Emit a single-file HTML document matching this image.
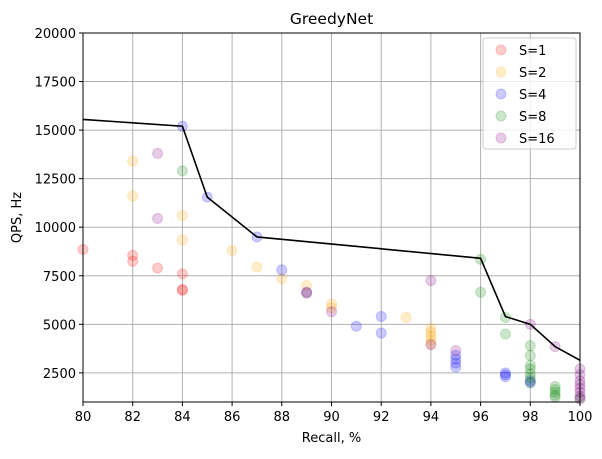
<!DOCTYPE html>
<html><head><meta charset="utf-8"><style>
body{margin:0;background:#fff;font-family:"DejaVu Sans","Liberation Sans",sans-serif}
</style></head><body>
<svg id="c" width="602" height="455" xmlns="http://www.w3.org/2000/svg" font-family="DejaVu Sans, Liberation Sans, sans-serif"></svg>
<script>
const xTicks=[80,82,84,86,88,90,92,94,96,98,100];
const yTicks=[2500,5000,7500,10000,12500,15000,17500,20000];
const seriesNames=["S=1","S=2","S=4","S=8","S=16"];
const seriesColors=["red","orange","blue","green","purple"];
const s1x=[80,82,82,83,84,84,84];
const s1y=[8850,8550,8250,7900,7600,6800,6750];
const s2x=[82,82,84,84,86,87,88,89,89,90,90,93,94,94,94,94,94];
const s2y=[13400,11600,10600,9350,8800,7950,7350,7000,6650,6050,5850,5350,4800,4600,4400,4200,4000];
const s4x=[84,85,87,88,89,91,92,92,95,95,95,95,97,97,97,98,98];
const s4y=[15200,11550,9500,7800,6650,4900,5400,4550,3400,3200,3000,2800,2500,2400,2300,2100,2000];
const s8x=[84,96,96,97,97,98,98,98,98,98,98,98,99,99,99,99,99,100];
const s8y=[12900,8350,6650,5350,4500,3900,3400,2900,2700,2450,2250,2000,1800,1650,1500,1350,1250,1200];
const s16x=[83,83,89,90,94,94,95,98,99,100,100,100,100,100,100,100,100];
const s16y=[13800,10450,6600,5650,7250,3950,3650,5000,3850,2700,2400,2100,1900,1700,1500,1300,1150];
const frontX=[80,84,85,87,96,97,98,99,100];
const frontY=[15550,15200,11550,9500,8400,5400,5000,3850,3150];
const SX=[s1x,s2x,s4x,s8x,s16x], SY=[s1y,s2y,s4y,s8y,s16y];
const L=83,R=580,T=33,B=402;
const xs=v=>L+(v-80)/20*(R-L);
const ys=v=>T+(20000-v)/(20000-1000)*(B-T);
const svg=document.getElementById('c');
const NS="http://www.w3.org/2000/svg";
function mk(t,a,p){const e=document.createElementNS(NS,t);for(const k in a)e.setAttribute(k,a[k]);(p||svg).appendChild(e);return e;}
xTicks.forEach(v=>{const g=mk('line',{x1:xs(v),x2:xs(v),y1:T,y2:B,stroke:'#b0b0b0','stroke-width':1});


const tk=mk('line',{x1:xs(v),x2:xs(v),y1:B,y2:B+4,stroke:'#000'});


const t=mk('text',{x:xs(v),y:B+19,'text-anchor':'middle','font-size':13});t.textContent=v;

});
yTicks.forEach(v=>{const g=mk('line',{x1:L,x2:R,y1:ys(v),y2:ys(v),stroke:'#b0b0b0','stroke-width':1});


const tk=mk('line',{x1:L-4,x2:L,y1:ys(v),y2:ys(v),stroke:'#000'});


const t=mk('text',{x:L-7,y:ys(v)+5,'text-anchor':'end','font-size':13});t.textContent=v;

});
SX.forEach((xa,i)=>{const g=mk('g',{});


xa.forEach((x,j)=>{const c=mk('circle',{cx:xs(x),cy:ys(SY[i][j]),r:5,fill:seriesColors[i],'fill-opacity':0.2,stroke:seriesColors[i],'stroke-opacity':0.2},g);

});});
const pl=mk('polyline',{points:frontX.map((x,i)=>xs(x)+','+ys(frontY[i])).join(' '),fill:'none',stroke:'#000','stroke-width':1.6});


const fr=mk('rect',{x:L,y:T,width:R-L,height:B-T,fill:'none',stroke:'#000','stroke-width':1});


const lg=mk('g',{});


mk('rect',{x:483,y:38,width:93,height:111,rx:3,fill:'#fff','fill-opacity':0.8,stroke:'#ccc'},lg);
seriesNames.forEach((n,i)=>{const y=50+i*22;
const c=mk('circle',{cx:501,cy:y,r:5,fill:seriesColors[i],'fill-opacity':0.2,stroke:seriesColors[i],'stroke-opacity':0.2},lg);


const t=mk('text',{x:519,y:y+5,'font-size':13},lg);t.textContent=n;

});
let t=mk('text',{x:(L+R)/2,y:24,'text-anchor':'middle','font-size':15.5});t.textContent='GreedyNet';


t=mk('text',{x:(L+R)/2,y:442,'text-anchor':'middle','font-size':13});t.textContent='Recall, %';


t=mk('text',{x:21,y:(T+B)/2,'text-anchor':'middle','font-size':13,transform:'rotate(-90 21 '+((T+B)/2)+')'});t.textContent='QPS, Hz';


</script>
</body></html>
